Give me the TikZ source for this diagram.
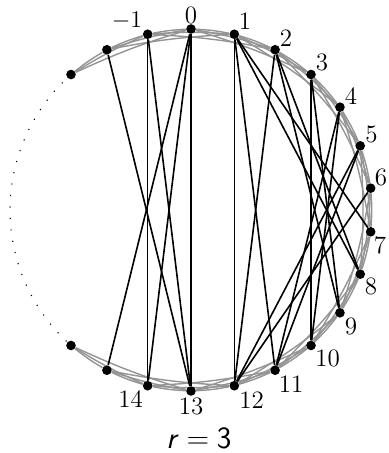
\documentclass[tikz,border=0pt]{standalone}
\usetikzlibrary{backgrounds}
\begin{document}
\begin{tikzpicture}[x=0.5pt,y=0.5pt,
  dot/.style={circle,fill=black,inner sep=0pt,minimum size=4.8pt},
  grayedge/.style={draw=black!42,line width=0.7pt},
  chord/.style={draw=black,line width=0.8pt},
  lbl/.style={inner sep=0pt,font=\fontsize{12.5}{14}\selectfont},
  dotline/.style={line width=0.55pt,dash pattern=on 0.55pt off 5.2pt}]
\useasboundingbox (0,0) rectangle (388,453);
\begin{scope}[shift={(191,243)}]
  % vertices k = -3 ... 16  (v0 ... v19)
  \foreach \i in {0,...,19}{
    \pgfmathsetmacro\ang{90-(\i-3)*180/13}
    \node[dot] (v\i) at (\ang:181) {};
  }
  \begin{pgfonlayer}{background}
    \foreach \i in {0,...,18}{
      \foreach \d in {1,2,3}{
        \pgfmathtruncatemacro\j{\i+\d}
        \ifnum\j<20 \draw[grayedge] (v\i) to[bend left=4] (v\j); \fi
      }
    }
    % left block
    \foreach \a/\b in {1/16,2/16,2/17,3/16,3/17,3/18}{
      \draw[chord] (v\a) -- (v\b);
    }
    % right block
    \foreach \a/\b in {4/10,4/11,5/11,5/12,6/12,6/13,7/13,7/14,8/14,8/15,9/15,4/14,4/15,5/15}{
      \draw[chord] (v\a) -- (v\b);
    }
  \end{pgfonlayer}
  \draw[dotline] (v0.center) arc[start angle=131.538, end angle=228.462, radius=181];
  % labels
  \node[lbl] (lm1) at (-64,189) {$-1$};
  \node[lbl] (l0) at (0,195) {0};
  \node[lbl] (l1) at (54,189) {1};
  \node[lbl] (l2) at (95,171.5) {2};
  \node[lbl] (l3) at (131,148) {3};
  \node[lbl] (l4) at (160,114) {4};
  \node[lbl] (l5) at (180.5,75.5) {5};
  \node[lbl] (l6) at (190,33) {6};
  \node[lbl] (l7) at (189,-35) {7};
  \node[lbl] (l8) at (180,-76.5) {8};
  \node[lbl] (l9) at (160,-116) {9};
  \node[lbl] (l10) at (136.5,-148.5) {10};
  \node[lbl] (l11) at (100,-174.5) {11};
  \node[lbl] (l12) at (60.5,-190.5) {12};
  \node[lbl] (l13) at (0,-196) {13};
  \node[lbl] (l14) at (-60.5,-189) {14};
  \node[inner sep=0pt,font=\fontsize{15.5}{17}\selectfont\sffamily] (cap) at (8,-228.5) {\textit{r}\kern0.25em=\kern0.25em3};
\end{scope}
\end{tikzpicture}
\end{document}
